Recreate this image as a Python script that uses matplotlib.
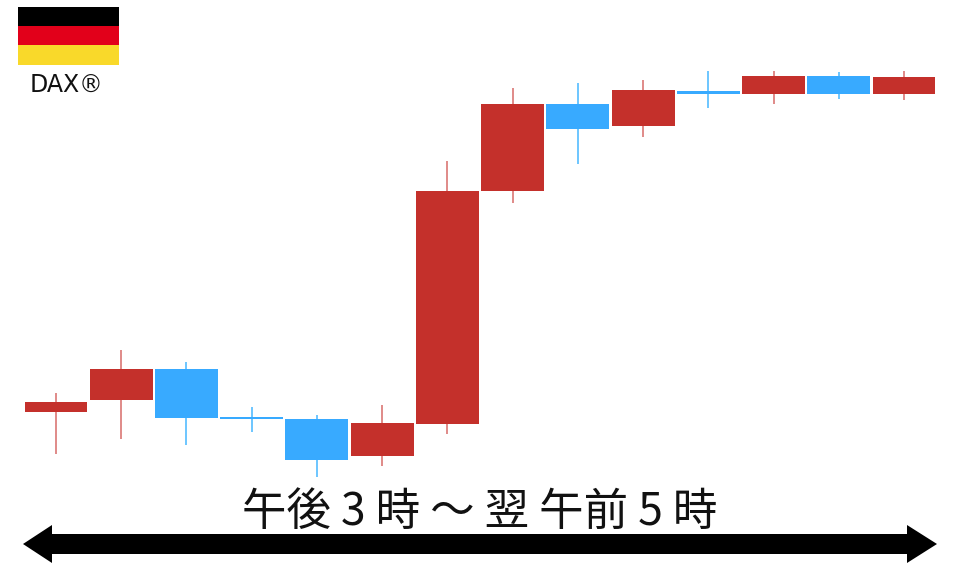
import matplotlib
matplotlib.use('Agg')
import matplotlib.pyplot as plt
from matplotlib.patches import Polygon, Rectangle

plt.rcParams['font.family'] = ['Noto Sans CJK JP', 'DejaVu Sans']

# price scale is arbitrary (no axis in the original)
opens = [155, 167, 198, 150, 148, 111.5, 143, 376.5, 463, 441, 476, 473.5, 491, 473.5]
closes = [165.5, 198, 149.5, 148.5, 107.5, 144, 376.5, 463, 438.5, 477.5, 473.5, 491, 473.5, 490]
highs = [174, 217, 205, 160, 152, 162, 406, 479, 484, 487, 496, 496, 495, 496]
lows = [113, 128, 122, 135, 90, 101, 133, 364, 403, 430, 459, 463, 468, 467]
# red = up, blue = down (japanese colours)
red = '#c4302b'
blue = '#38aaff'
red_wick = '#e08a88'
blue_wick = '#6cc6ff'

title = '午後 3 時 ～ 翌 午前 5 時'
index_name = 'DAX®'
flag_colors = ['#000000', '#e2001a', '#f9d92a']

fig = plt.figure(figsize=(9.6, 5.67), dpi=100)
ax = fig.add_axes([0, 0, 1, 1])
step = 65.23
ax.set_xlim(-56 / step, (960 - 56) / step)
ax.set_ylim(0, 567)
ax.axis('off')

for i in range(len(opens)):
    up = closes[i] >= opens[i]
    ax.vlines(i, lows[i], highs[i], color=red_wick if up else blue_wick, lw=1.4, zorder=1)
    ax.bar(i, abs(closes[i] - opens[i]), bottom=min(opens[i], closes[i]), width=0.965,
           color=red if up else blue, lw=0, zorder=2)

# decorations in pixel coords of the figure, y down
over = fig.add_axes([0, 0, 1, 1])
over.set_xlim(0, 960)
over.set_ylim(567, 0)
over.axis('off')
over.patch.set_alpha(0)

for c, top in zip(flag_colors, [7, 26, 45]):
    over.add_patch(Rectangle((18, top), 101, 19.5, color=c, lw=0))
over.text(67, 85, index_name, ha='center', va='center', fontsize=17, color='#111111', family='DejaVu Sans')

over.add_patch(Polygon([(23, 544), (52, 525), (52, 534), (907, 534), (907, 525), (937, 544),
                        (907, 563), (907, 554), (52, 554), (52, 563)], color='black', lw=0))
over.text(480, 512, title, ha='center', va='center', fontsize=32, color='#111111')

fig.savefig('out.png', dpi=100)
